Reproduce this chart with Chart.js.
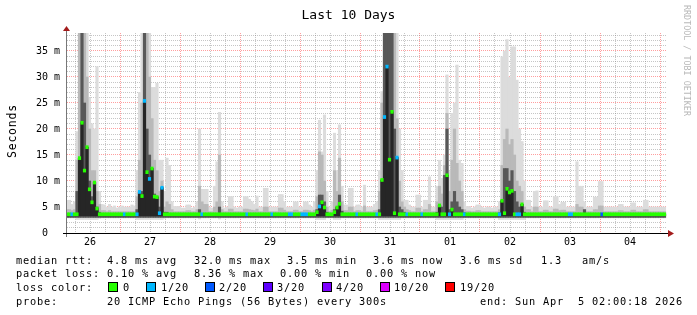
<!DOCTYPE html>
<html>
<head>
<meta charset="utf-8">
<script src="https://cdn.jsdelivr.net/npm/chart.js@4.4.1/dist/chart.umd.min.js"></script>
<style>
html, body { margin: 0; padding: 0; background: #fff; }
#wrap { position: relative; width: 697px; height: 315px; overflow: hidden; font-family: "DejaVu Sans Mono", monospace; }
canvas { position: absolute; left: 0; top: 0; }
.t { position: absolute; white-space: pre; font-size: 10.3px; letter-spacing: 0.8px; line-height: 12px; color: #000; }
.box { position: absolute; width: 8px; height: 8px; border: 1px solid #000; }
#title { position: absolute; left: 0; width: 697px; top: 7px; text-align: center; font-size: 13px; line-height: 15px; white-space: pre; }
#ylab { position: absolute; left: -20px; top: 124px; width: 64px; text-align: center; font-size: 11.5px; letter-spacing: 0.8px; line-height: 14px; transform: rotate(-90deg); }
#mark { position: absolute; left: 682px; top: 5px; writing-mode: vertical-rl; font-size: 8.4px; line-height: 10px; color: #b8b8b8; white-space: pre; }
</style>
</head>
<body>
<div id="wrap">
  <canvas id="chart" width="697" height="315"></canvas>
  <div id="title">Last 10 Days</div>
  <div id="ylab">Seconds</div>
  <div id="mark">RRDTOOL / TOBI OETIKER</div>

  <div class="t" style="left:16px;top:254px">median rtt:</div>
  <div class="t" style="left:107px;top:254px">4.8 ms avg</div>
  <div class="t" style="left:194px;top:254px">32.0 ms max</div>
  <div class="t" style="left:287px;top:254px">3.5 ms min</div>
  <div class="t" style="left:373px;top:254px">3.6 ms now</div>
  <div class="t" style="left:460px;top:254px">3.6 ms sd</div>
  <div class="t" style="left:541px;top:254px">1.3</div>
  <div class="t" style="left:582px;top:254px">am/s</div>

  <div class="t" style="left:16px;top:267px">packet loss:</div>
  <div class="t" style="left:107px;top:267px">0.10 % avg</div>
  <div class="t" style="left:194px;top:267px">8.36 % max</div>
  <div class="t" style="left:280px;top:267px">0.00 % min</div>
  <div class="t" style="left:366px;top:267px">0.00 % now</div>

  <div class="t" style="left:16px;top:281px">loss color:</div>
  <div id="lossLegend"></div>

  <div class="t" style="left:16px;top:295px">probe:</div>
  <div class="t" style="left:107px;top:295px">20 ICMP Echo Pings (56 Bytes) every 300s</div>
  <div class="t" style="left:480px;top:295px">end: Sun Apr  5 02:00:18 2026</div>
</div>

<script>
// x axis: hours after Mar 26 00:00, one bucket per hour
const startHour = 2.8;
const spanHours = 240;
const dayLabels = ['26', '27', '28', '29', '30', '31', '01', '02', '03', '04'];
const yMax = 38.46;

// loss classes (lost pings out of 20)
const lossLevels = [0, 1, 2, 3, 4, 10, 19];
const lossLabels = ['0', '1/20', '2/20', '3/20', '4/20', '10/20', '19/20'];
const lossColors = ['#26ff00', '#00b8ff', '#0059ff', '#5e00ff', '#7e00ff', '#dd00ff', '#ff0000'];

// median rtt per hour (ms)
const medianRtt = [
  3.6,3.6,3.6,3.6,3.6,14.4,21.2,12.0,16.5,8.4,5.9,9.7,4.7,3.6,3.6,3.6,3.6,3.6,3.6,3.6,3.6,3.6,3.6,3.6,
  3.6,3.6,3.6,3.6,3.6,7.9,7.1,25.4,11.7,10.4,12.4,7.0,6.9,3.8,8.7,3.6,3.6,3.6,3.6,3.6,3.6,3.6,3.6,3.6,
  3.6,3.6,3.6,3.6,3.6,3.6,3.6,3.6,3.6,3.6,3.6,3.6,3.6,3.6,3.6,3.6,3.6,3.6,3.6,3.6,3.6,3.6,3.6,3.6,
  3.6,3.6,3.6,3.6,3.6,3.6,3.6,3.6,3.6,3.6,3.6,3.6,3.6,3.6,3.6,3.6,3.6,3.6,3.6,3.6,3.6,3.6,3.6,3.6,
  3.6,3.6,3.6,3.6,4.0,5.1,5.9,4.9,3.6,3.6,3.6,4.0,4.9,5.6,3.6,3.6,3.6,3.6,3.6,3.6,3.6,3.6,3.6,3.6,
  3.6,3.6,3.6,3.6,3.6,3.6,10.2,22.3,32.0,14.1,23.3,3.8,14.5,3.6,3.6,3.6,3.6,3.6,3.6,3.6,3.6,3.6,3.6,3.6,
  3.6,3.6,3.6,3.6,3.6,5.3,3.6,3.6,11.1,3.6,4.5,3.6,3.6,3.6,3.6,3.6,3.6,3.6,3.6,3.6,3.6,3.6,3.6,3.6,
  3.6,3.6,3.6,3.6,3.6,3.6,6.2,3.8,8.5,7.8,8.1,3.6,3.6,3.6,5.5,3.6,3.6,3.6,3.6,3.6,3.6,3.6,3.6,3.6,
  3.6,3.6,3.6,3.6,3.6,3.6,3.6,3.6,3.6,3.6,3.6,3.6,3.6,3.6,3.6,3.6,3.6,3.6,3.6,3.6,3.6,3.6,3.6,3.6,
  3.6,3.6,3.6,3.6,3.6,3.6,3.6,3.6,3.6,3.6,3.6,3.6,3.6,3.6,3.6,3.6,3.6,3.6,3.6,3.6,3.6,3.6,3.6,3.6
];

// lost pings per hour
const lossCount = [
  0,0,1,0,0,0,0,0,0,0,0,0,0,0,0,0,0,0,0,0,0,0,0,1,
  0,0,0,0,1,1,0,1,0,1,0,0,0,1,1,0,0,0,0,0,0,0,0,0,
  0,0,0,0,0,0,1,0,0,0,0,0,0,0,0,0,0,0,0,0,0,0,0,0,
  1,0,0,0,0,0,0,0,0,0,1,0,0,0,0,0,0,1,1,0,0,0,1,1,
  1,0,0,0,0,1,0,0,0,0,0,0,0,0,0,0,0,0,0,0,1,0,0,0,
  0,0,0,0,1,0,0,1,1,0,0,0,1,0,0,0,1,0,0,0,0,0,1,0,
  0,0,0,0,0,0,0,0,0,1,0,0,0,0,0,1,0,0,0,0,0,0,0,0,
  0,0,0,0,0,1,0,0,0,0,0,0,1,1,0,0,0,0,0,0,0,0,0,0,
  0,0,0,0,0,0,0,0,0,1,1,0,0,0,0,0,0,0,0,0,0,0,2,0,
  0,0,0,0,0,0,0,0,0,0,0,0,0,0,0,0,0,0,0,0,0,0,0,0
];

// smoke: lowest ping, dense band top, middle band top, highest ping (ms)
const smokeLo = [
  2.9,2.9,2.9,2.9,2.6,2.6,2.6,2.6,2.6,2.6,2.6,2.6,2.6,2.8,2.9,2.9,2.9,2.9,2.9,2.9,2.9,2.9,2.9,2.9,
  2.9,2.9,2.9,2.9,2.6,2.6,2.6,2.6,2.6,2.6,2.6,2.6,2.6,2.6,2.6,2.8,2.9,2.9,2.9,2.9,2.9,2.9,2.9,2.9,
  2.9,2.9,2.9,2.9,2.9,2.7,2.9,2.9,2.9,2.9,2.9,2.9,2.9,2.7,2.9,2.9,2.9,2.9,2.9,2.9,2.9,2.9,2.9,2.9,
  2.9,2.9,2.9,2.9,2.9,2.9,2.9,2.9,2.9,2.9,2.9,2.9,2.9,2.9,2.9,2.9,2.9,2.9,2.9,2.9,2.9,2.9,2.9,2.9,
  2.9,2.9,2.9,2.9,2.6,2.6,2.6,2.6,2.9,2.9,2.9,2.6,2.6,2.6,2.9,2.9,2.9,2.9,2.9,2.9,2.9,2.9,2.9,2.9,
  2.9,2.9,2.9,2.9,2.9,2.6,2.6,2.6,2.6,2.6,2.6,2.6,2.6,2.6,2.9,2.9,2.9,2.9,2.9,2.9,2.9,2.9,2.9,2.9,
  2.9,2.9,2.9,2.9,2.6,2.6,2.6,2.6,2.6,2.6,2.6,2.6,2.6,2.6,2.6,2.9,2.9,2.9,2.9,2.9,2.9,2.9,2.9,2.9,
  2.9,2.9,2.9,2.9,2.9,2.6,2.6,2.6,2.6,2.6,2.6,2.6,2.6,2.6,2.6,2.6,2.9,2.9,2.9,2.9,2.9,2.9,2.9,2.9,
  2.9,2.9,2.9,2.9,2.9,2.9,2.9,2.9,2.9,2.9,2.9,2.9,2.9,2.9,2.9,2.9,2.9,2.9,2.9,2.9,2.9,2.9,2.9,2.9,
  2.9,2.9,2.9,2.9,2.9,2.9,2.9,2.9,2.9,2.9,2.9,2.9,2.9,2.9,2.9,2.9,2.9,2.9,2.9,2.9,2.9,2.9,2.9,2.9
];

const smokeDark = [
  3.7,3.7,3.7,3.7,8.0,14.4,38.5,25.0,16.5,10.0,7.0,9.7,5.0,4.0,3.7,3.7,3.7,3.7,3.7,3.7,3.7,3.7,3.7,3.7,
  3.7,3.7,3.7,3.7,4.5,7.9,8.0,38.5,20.0,15.0,12.4,7.5,7.0,5.0,8.7,4.0,4.0,3.7,3.7,3.7,3.7,3.7,3.7,3.7,
  3.7,3.7,3.7,3.7,3.7,4.5,3.7,3.7,3.7,3.7,3.7,3.7,3.7,5.0,3.7,3.7,3.7,3.7,3.7,3.7,3.7,3.7,3.7,3.7,
  3.7,3.7,3.7,3.7,3.7,3.7,3.7,3.7,3.7,3.7,3.7,3.7,3.7,3.7,3.7,3.7,3.7,3.7,3.7,3.7,3.7,3.7,3.7,3.7,
  3.7,3.7,3.7,3.7,4.5,7.3,7.3,6.0,4.0,3.7,3.7,4.5,5.0,7.3,4.2,3.7,3.7,3.7,3.7,3.7,3.7,3.7,3.7,3.7,
  3.7,3.7,3.7,3.7,3.7,4.5,10.2,38.5,38.5,38.5,38.5,20.0,14.5,5.0,4.5,4.0,3.7,3.7,3.7,3.7,3.7,3.7,3.7,3.7,
  3.7,3.7,3.7,3.7,4.0,5.3,5.0,11.1,20.0,4.5,6.0,8.0,6.0,5.0,4.5,3.9,3.7,3.7,3.7,3.7,3.7,3.7,3.7,3.7,
  3.7,3.7,3.7,3.7,3.7,3.9,6.2,12.4,12.4,10.0,12.0,8.0,6.0,5.0,5.5,4.0,3.7,3.7,3.7,3.7,3.7,3.7,3.7,3.7,
  3.7,3.7,3.7,3.7,3.7,3.7,3.7,3.7,3.7,3.7,3.7,3.7,3.7,3.7,3.7,4.5,3.7,3.7,3.7,3.7,3.7,3.7,3.7,3.7,
  3.7,3.7,3.7,3.7,3.7,3.7,3.7,3.7,3.7,3.7,3.7,3.7,3.7,3.7,3.7,3.7,3.7,3.7,3.7,3.7,3.7,3.7,3.7,3.7
];

const smokeMid = [
  4.5,4.5,4.3,4.5,14.0,38.5,38.5,38.5,30.0,20.0,12.0,12.0,8.0,5.5,4.3,4.3,4.1,4.3,4.1,4.1,4.1,4.1,4.1,4.1,
  4.1,4.1,4.1,4.1,7.0,14.0,25.0,38.5,38.5,30.0,22.0,14.0,12.0,8.0,10.0,5.0,6.0,5.5,4.5,4.1,4.1,4.1,4.1,4.1,
  4.3,4.3,4.1,4.1,4.5,9.0,6.0,5.5,5.5,4.1,4.1,5.0,6.0,15.0,4.5,4.1,4.1,4.6,4.6,4.1,4.1,4.1,4.1,4.6,
  4.6,4.5,4.4,4.3,4.6,4.1,4.1,5.0,5.0,4.1,4.1,4.1,4.1,4.8,4.8,4.4,4.1,4.1,4.1,4.4,4.4,4.1,4.1,4.4,
  4.4,4.3,4.1,4.4,7.0,15.6,15.0,10.0,5.0,4.1,4.4,12.0,8.0,14.4,6.0,4.3,4.3,5.0,5.0,4.1,4.3,4.3,4.1,5.2,
  4.1,4.1,4.1,4.3,4.4,8.0,25.0,38.5,38.5,38.5,38.5,38.5,22.0,10.0,6.0,5.0,4.5,4.3,4.1,4.1,4.8,4.8,4.1,4.5,
  4.5,5.5,4.1,4.1,6.0,9.0,7.5,13.0,23.0,8.0,14.0,20.0,13.4,10.0,8.0,4.5,4.2,4.2,4.1,4.1,4.3,4.3,4.1,4.1,
  4.1,4.1,4.1,4.1,4.1,4.5,13.0,18.0,20.0,17.0,18.0,15.0,10.0,9.0,8.0,5.0,4.5,4.5,4.1,5.0,5.0,4.1,4.1,4.4,
  4.4,4.1,4.1,4.6,4.6,4.3,4.4,4.4,4.1,4.1,4.1,4.1,5.5,5.0,5.0,4.5,4.1,4.1,4.1,4.5,4.5,5.2,5.2,4.1,
  4.1,4.1,4.1,4.1,4.1,4.3,4.3,4.1,4.1,4.1,4.4,4.4,4.1,4.1,4.1,4.5,4.5,4.1,4.1,4.1,4.1,4.1,4.1,4.1
];

const smokeMax = [
  6.3,6.3,5.5,6.0,19.5,38.5,38.5,38.5,38.5,26.0,21.0,20.0,32.0,8.0,5.5,5.4,5.0,5.5,5.0,5.2,4.8,5.0,5.2,5.0,
  5.0,5.0,5.4,5.2,12.0,27.0,38.5,38.5,38.5,38.5,28.0,28.0,28.8,14.0,14.0,8.0,14.4,13.0,6.0,5.1,5.1,5.1,4.8,4.8,
  5.4,5.4,4.8,5.0,6.0,20.0,8.4,8.4,8.4,5.0,4.8,9.0,13.7,23.2,6.0,4.8,5.0,7.0,7.0,5.0,4.8,5.0,5.0,7.0,
  7.0,6.5,6.0,5.5,7.1,5.0,5.0,8.6,8.6,5.0,5.0,5.0,5.0,7.4,7.4,6.0,5.0,5.0,5.0,6.0,6.0,5.0,5.0,6.0,
  6.0,5.4,5.0,6.0,12.0,21.7,15.6,22.7,8.0,5.0,6.0,19.2,12.0,20.8,9.0,5.4,5.4,8.6,8.6,5.0,5.4,5.4,5.0,9.2,
  5.0,5.0,5.0,5.5,6.0,12.0,27.2,38.5,38.5,38.5,38.5,38.5,38.5,20.0,12.0,6.3,6.3,5.4,5.0,5.0,7.3,7.3,5.0,6.3,
  6.3,10.8,5.0,5.0,9.0,14.0,10.5,15.0,30.4,12.0,23.0,25.0,32.3,14.0,13.4,6.0,5.1,5.1,4.8,5.0,5.4,5.4,5.0,4.8,
  5.0,5.0,4.8,5.0,5.0,6.0,33.9,35.0,37.2,30.0,35.8,35.8,29.4,20.0,17.6,10.0,6.3,6.3,5.0,8.0,8.1,5.0,5.0,6.2,
  6.2,5.0,5.0,7.0,7.0,5.5,5.9,5.9,5.0,5.0,5.0,5.0,13.7,9.0,9.0,6.0,5.0,5.0,5.0,6.9,6.9,9.9,9.9,5.0,
  5.0,5.0,5.0,5.0,5.0,5.5,5.5,5.0,5.0,5.0,5.8,5.8,5.0,5.0,5.0,6.3,6.3,5.0,5.0,5.0,5.0,5.0,5.0,5.0
];

// bottom of the denser smoke layers and of the median spine
const denseFloor = 3.0;
const spineFloor = 3.3;

const hours = medianRtt.map((_, i) => startHour + i);

function lossClass(n) {
  let k = 0;
  lossLevels.forEach((lv, i) => { if (n >= lv) k = i; });
  return k;
}

function band(top, floor) {
  return hours.map((h, i) => ({ x: h, y: [floor == null ? smokeLo[i] : Math.max(floor, smokeLo[i]), top[i]] }));
}

// loss colour legend
const legendBox = document.getElementById('lossLegend');
const boxLeft = [108, 146, 205, 263, 322, 380, 445];
const textLeft = [123, 161, 219, 277, 336, 394, 460];
lossLabels.forEach((lab, i) => {
  const b = document.createElement('div');
  b.className = 'box';
  b.style.left = boxLeft[i] + 'px';
  b.style.top = '282px';
  b.style.background = lossColors[i];
  legendBox.appendChild(b);
  const t = document.createElement('div');
  t.className = 't';
  t.style.left = textLeft[i] + 'px';
  t.style.top = '281px';
  t.textContent = lab;
  legendBox.appendChild(t);
});

// axis lines with arrow heads, rrdtool style
const axisArrows = {
  id: 'axisArrows',
  afterDraw(chart) {
    const { ctx, chartArea: a } = chart;
    ctx.save();
    ctx.lineWidth = 1;
    ctx.strokeStyle = '#777';
    ctx.beginPath();
    ctx.moveTo(a.left - 0.5, a.bottom + 4);
    ctx.lineTo(a.left - 0.5, a.top - 2);
    ctx.stroke();
    ctx.strokeStyle = '#000';
    ctx.beginPath();
    ctx.moveTo(a.left - 4, a.bottom + 0.5);
    ctx.lineTo(a.right + 2, a.bottom + 0.5);
    ctx.stroke();
    ctx.fillStyle = '#a31c1c';
    ctx.beginPath();
    ctx.moveTo(a.right + 1, a.bottom - 3);
    ctx.lineTo(a.right + 7, a.bottom + 0.5);
    ctx.lineTo(a.right + 1, a.bottom + 4);
    ctx.closePath();
    ctx.fill();
    ctx.beginPath();
    ctx.moveTo(a.left - 4, a.top - 2);
    ctx.lineTo(a.left - 0.5, a.top - 7);
    ctx.lineTo(a.left + 3, a.top - 2);
    ctx.closePath();
    ctx.fill();
    ctx.restore();
  }
};

const gridRed = 'rgba(255, 0, 0, 0.38)';
const gridGrey = 'rgba(120, 120, 120, 0.42)';

new Chart(document.getElementById('chart'), {
  type: 'bar',
  data: {
    datasets: [
      {
        label: 'median',
        data: hours.map((h, i) => ({ x: h, y: [medianRtt[i] - 0.29, medianRtt[i] + 0.29] })),
        backgroundColor: lossCount.map(n => lossColors[lossClass(n)]),
        order: 0
      },
      { label: 'spine', data: hours.map((h, i) => ({ x: h, y: [spineFloor, medianRtt[i]] })), backgroundColor: '#262626', order: 1 },
      { label: 'dark', data: band(smokeDark, denseFloor), backgroundColor: '#585858', order: 2 },
      { label: 'mid', data: band(smokeMid, denseFloor), backgroundColor: '#b9b9b9', order: 3 },
      { label: 'light', data: band(smokeMax), backgroundColor: '#dcdcdc', order: 4 }
    ]
  },
  options: {
    responsive: false,
    animation: false,
    devicePixelRatio: 1,
    datasets: {
      bar: { grouped: false, barPercentage: 1, categoryPercentage: 1, borderWidth: 0 }
    },
    layout: { padding: { left: 0, right: 30, top: 33, bottom: 62 } },
    plugins: { legend: { display: false }, tooltip: { enabled: false }, title: { display: false } },
    scales: {
      x: {
        type: 'linear',
        min: startHour,
        max: startHour + spanHours,
        offset: false,
        afterFit(s) { s.height = 20; },
        afterBuildTicks(s) {
          const t = [];
          for (let h = 6; h <= 240; h += 6) t.push({ value: h });
          s.ticks = t;
        },
        grid: {
          offset: false,
          drawTicks: false,
          color: c => (c.tick && c.tick.value % 24 === 0 ? gridRed : gridGrey),
          borderDash: [1, 1]
        },
        border: { display: false, dash: [1, 1] },
        ticks: {
          autoSkip: false,
          maxRotation: 0,
          padding: 3,
          color: '#000',
          font: { family: 'DejaVu Sans Mono', size: 10 },
          callback: v => (v % 24 === 12 ? dayLabels[(v - 12) / 24] : '')
        }
      },
      y: {
        min: 0,
        max: yMax,
        afterFit(s) { s.width = 67; },
        afterBuildTicks(s) {
          const t = [];
          for (let v = 0; v <= 38; v++) t.push({ value: v });
          s.ticks = t;
        },
        grid: {
          drawTicks: false,
          color: c => (c.tick && c.tick.value % 5 === 0 ? gridRed : gridGrey),
          borderDash: [1, 1]
        },
        border: { display: false, dash: [1, 1] },
        ticks: {
          autoSkip: false,
          padding: 7,
          color: '#000',
          font: { family: 'DejaVu Sans Mono', size: 10 },
          callback: v => (v === 0 ? '0  ' : (v % 5 === 0 ? v + ' m' : ''))
        }
      }
    }
  },
  plugins: [axisArrows]
});
</script>
</body>
</html>
